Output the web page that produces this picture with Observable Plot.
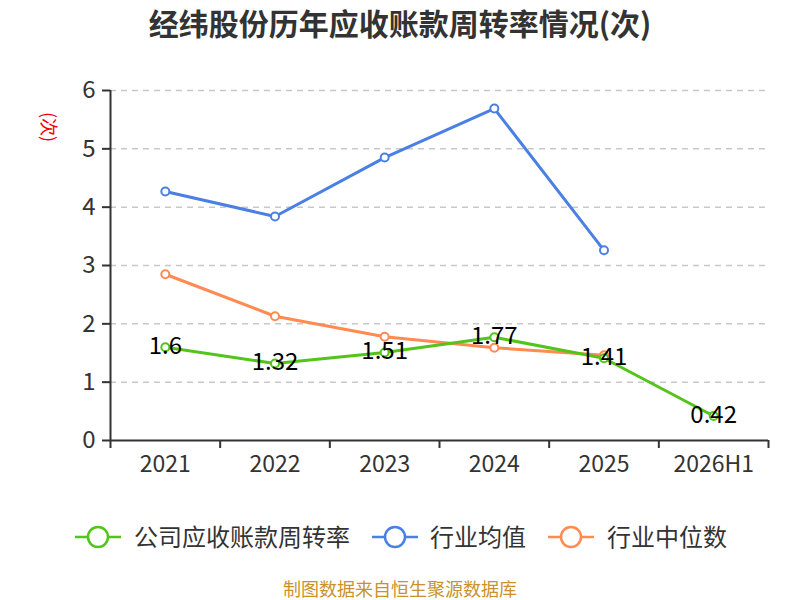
<!DOCTYPE html>
<html><head><meta charset="utf-8">
<script src="https://cdn.jsdelivr.net/npm/d3@7"></script>
<script src="https://cdn.jsdelivr.net/npm/@observablehq/plot@0.6"></script>
<style>
body{margin:0;background:#fff;font-family:"Noto Sans CJK SC","Noto Sans",sans-serif;}
#wrap{position:relative;width:800px;height:600px;overflow:hidden;}
#title{position:absolute;left:0;top:0px;width:800px;text-align:center;font-size:30px;font-weight:bold;color:#333;}
#ylab{position:absolute;left:35px;top:114px;color:#e00;font-size:18px;transform:rotate(90deg);transform-origin:center;}
#legend{position:absolute;left:0;top:519px;width:800px;height:36px;}
#caption{position:absolute;left:0;top:575px;width:800px;text-align:center;font-size:18px;color:#c9922a;}
#chart{position:absolute;left:0;top:0;}
</style></head>
<body>
<div id="wrap">
<div id="chart"></div>
<div id="title">经纬股份历年应收账款周转率情况(次)</div>
<div id="ylab">(次)</div>
<div id="legend"></div>
<div id="caption">制图数据来自恒生聚源数据库</div>
</div>
<script>
const categories = ["2021","2022","2023","2024","2025","2026H1"];
const companyValues = [1.6, 1.32, 1.51, 1.77, 1.41, 0.42];
const industryAvg = [4.27, 3.84, 4.85, 5.69, 3.26];
const industryMedian = [2.85, 2.13, 1.78, 1.59, 1.46];
const yTicks = [0,1,2,3,4,5,6];
const seriesNames = ["公司应收账款周转率","行业均值","行业中位数"];
const colors = ["#52c41a","#4a7fe3","#ff8a52"];

const font = "Noto Sans CJK SC, Noto Sans, sans-serif";
const toRows = (vals, s) => vals.map((v,i)=>({x:i+0.5, cat:categories[i], v, s}));
const comp = toRows(companyValues, seriesNames[0]);
const avg = toRows(industryAvg, seriesNames[1]);
const med = toRows(industryMedian, seriesNames[2]);
const boundaries = d3.range(categories.length+1);

const chart = Plot.plot({
  width: 800, height: 600,
  marginTop: 90, marginBottom: 160, marginLeft: 110, marginRight: 32,
  style: {fontFamily: font, background: "transparent"},
  x: {domain: [0, categories.length], axis: null},
  y: {domain: [0, 6], axis: null},
  marks: [
    Plot.gridY(yTicks.filter(d=>d>0), {stroke:"#c8c8c8", strokeOpacity:1, strokeDasharray:"6,5", strokeWidth:1.5}),
    Plot.axisY(yTicks, {tickSize: 8, tickPadding: 7, tickFormat: d=>String(d), fontSize: 24, stroke:"#333", fill:"#333", strokeWidth:2, label:null}),
    Plot.ruleX([0], {stroke:"#333", strokeWidth:2}),
    Plot.ruleY([0], {stroke:"#333", strokeWidth:2}),
    Plot.axisX(boundaries, {tickSize: 8, tickFormat: ()=>"", stroke:"#333", strokeWidth:2, label:null}),
    Plot.axisX(categories.map((c,i)=>i+0.5), {tickSize: 0, tickPadding: 15, tickFormat: d=>categories[Math.floor(d)], fontSize: 23, fill:"#333", label:null}),
    Plot.line(avg, {x:"x", y:"v", stroke: colors[1], strokeWidth: 3}),
    Plot.line(med, {x:"x", y:"v", stroke: colors[2], strokeWidth: 3}),
    Plot.line(comp, {x:"x", y:"v", stroke: colors[0], strokeWidth: 3}),
    Plot.dot(avg, {x:"x", y:"v", r:4, fill:"#fff", stroke: colors[1], strokeWidth:2}),
    Plot.dot(med, {x:"x", y:"v", r:4, fill:"#fff", stroke: colors[2], strokeWidth:2}),
    Plot.dot(comp, {x:"x", y:"v", r:4, fill:"#fff", stroke: colors[0], strokeWidth:2}),
    Plot.text(comp, {x:"x", y:"v", text: d=>String(d.v), fontSize: 24, fill:"#000", dy: -1, lineAnchor:"middle"})
  ]
});
document.getElementById("chart").appendChild(chart);

// legend
const lg = d3.select("#legend").append("svg").attr("width",800).attr("height",36);
const items = [{x:75, tx:134}, {x:372, tx:430}, {x:548, tx:607}];
seriesNames.forEach((n,i)=>{
  const g = lg.append("g");
  const x0 = items[i].x;
  g.append("line").attr("x1",x0).attr("x2",x0+46).attr("y1",18).attr("y2",18).attr("stroke",colors[i]).attr("stroke-width",2.5);
  g.append("circle").attr("cx",x0+23).attr("cy",18).attr("r",10).attr("fill","#fff").attr("stroke",colors[i]).attr("stroke-width",2.5);
  g.append("text").attr("x",items[i].tx).attr("y",18).attr("dy","0.36em").attr("font-size",24).attr("fill","#333").attr("font-family",font).text(n);
});
</script>
</body></html>
